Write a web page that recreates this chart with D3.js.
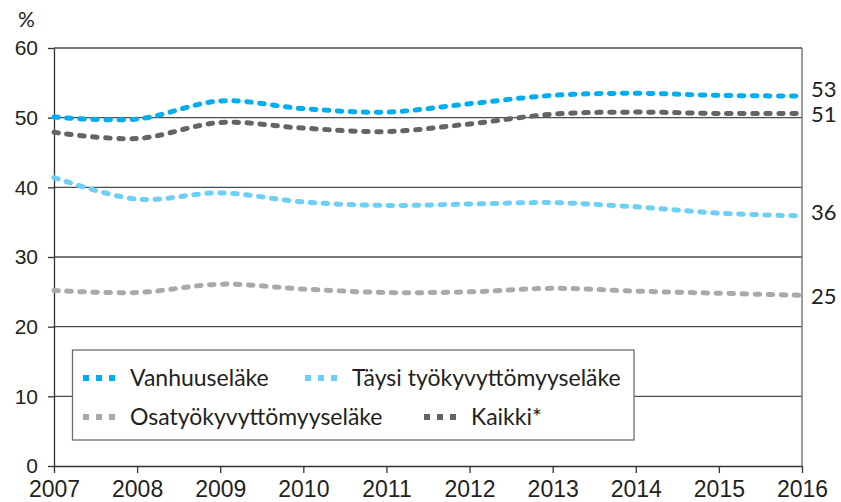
<!DOCTYPE html>
<html>
<head>
<meta charset="utf-8">
<script src="https://cdn.jsdelivr.net/npm/d3@7"></script>
<style>
  body { margin: 0; background: #fff; }
  svg { display: block; font-family: Lato, "Open Sans", sans-serif; }
</style>
</head>
<body>
<svg width="841" height="502"></svg>
<script>
let width = 841, height = 502;

// data
const years = [2007, 2008, 2009, 2010, 2011, 2012, 2013, 2014, 2015, 2016];
const vanhuus = [50.1, 49.8, 52.4, 51.3, 50.8, 52.0, 53.2, 53.5, 53.2, 53.1];
const taysi = [41.4, 38.3, 39.2, 37.9, 37.4, 37.6, 37.8, 37.2, 36.3, 35.9];
const osa = [25.2, 24.9, 26.1, 25.4, 24.9, 25.0, 25.5, 25.1, 24.8, 24.5];
const kaikki = [47.9, 47.0, 49.3, 48.5, 48.0, 49.1, 50.5, 50.8, 50.6, 50.6];
const endLabels = ["53", "25", "36", "51"];
const seriesNames = ["Vanhuuseläke", "Osatyökyvyttömyyseläke", "Täysi työkyvyttömyyseläke", "Kaikki*"];
const seriesColors = ["#00aeef", "#a7a9ac", "#6dcff6", "#636466"];
const yTicks = [0, 10, 20, 30, 40, 50, 60];

const series = [vanhuus, osa, taysi, kaikki].map((v, i) => ({
    name: seriesNames[i], color: seriesColors[i], label: endLabels[i], values: v
}));

let svg = d3.select("svg");

let x = d3.scaleLinear().domain([2007, 2016]).range([54, 802]);
let y = d3.scaleLinear().domain([0, 60]).range([466, 48]);

// gridlines
svg.append("g").selectAll("line")
    .data(yTicks.filter(d => d > 0))
    .enter().append("line")
    .attr("x1", x(2007)).attr("x2", x(2016))
    .attr("y1", d => y(d)).attr("y2", d => y(d))
    .attr("stroke", "#4d4d4d")
    .attr("stroke-width", 1.3);

// right border
svg.append("line")
    .attr("x1", x(2016)).attr("x2", x(2016))
    .attr("y1", y(60)).attr("y2", y(0))
    .attr("stroke", "#666").attr("stroke-width", 1.3);

// axes
let yAxis = svg.append("g")
    .attr("transform", "translate(" + x(2007) + ",0)")
    .call(d3.axisLeft(y).tickValues(yTicks).tickSize(6).tickPadding(10).tickSizeOuter(0));
yAxis.selectAll("text").style("font-size", "21px").attr("fill", "#231f20");

let xAxis = svg.append("g")
    .attr("transform", "translate(0," + y(0) + ")")
    .call(d3.axisBottom(x).tickValues(years).tickFormat(d3.format("d")).tickSize(7).tickPadding(8).tickSizeOuter(0));
xAxis.selectAll("text").style("font-size", "23px").attr("fill", "#231f20");

svg.selectAll(".domain, .tick line").attr("stroke", "#333").attr("stroke-width", 1.3);

svg.append("text")
    .attr("x", 18).attr("y", 27)
    .style("font-size", "21px").attr("fill", "#231f20")
    .text("%");

// lines
let line = d3.line()
    .x((d, i) => x(years[i]))
    .y(d => y(d))
    .curve(d3.curveCatmullRom.alpha(0.5));

svg.append("g").selectAll("path")
    .data(series)
    .enter().append("path")
    .attr("d", d => line(d.values))
    .attr("fill", "none")
    .attr("stroke", d => d.color)
    .attr("stroke-width", 5)
    .attr("stroke-linecap", "round")
    .attr("stroke-dasharray", "4.5 8.5");

// end labels
svg.append("g").selectAll("text")
    .data(series)
    .enter().append("text")
    .attr("x", 811)
    .attr("y", d => y(d.values[d.values.length - 1]) + (d.label == "53" ? -7 : d.label == "36" ? -4 : 1))
    .attr("dy", "0.36em")
    .style("font-size", "22px")
    .attr("fill", "#231f20")
    .text(d => d.label);

// legend
let legend = svg.append("g");
legend.append("rect")
    .attr("x", 72.5).attr("y", 350)
    .attr("width", 561.5).attr("height", 90)
    .attr("fill", "#fff")
    .attr("stroke", "#6d6e71").attr("stroke-width", 1.3);

let legendX = [83, 305], legendY = [378, 417];
let legenditem = legend.selectAll(".legenditem")
    .data(series)
    .enter().append("g")
    .attr("class", "legenditem")
    .attr("transform", (d, i) => {
        let col = i < 2 ? 0 : 1;
        let lx = i == 3 ? 424 : legendX[col];
        return "translate(" + lx + "," + legendY[i % 2] + ")";
    });

legenditem.append("line")
    .attr("x1", 0).attr("x2", 32)
    .attr("stroke", d => d.color)
    .attr("stroke-width", 6)
    .attr("stroke-dasharray", "6 7");

legenditem.append("text")
    .attr("x", 47)
    .attr("dy", "0.36em")
    .style("font-size", "23px")
    .attr("fill", "#231f20")
    .text(d => d.name);
</script>
</body>
</html>
